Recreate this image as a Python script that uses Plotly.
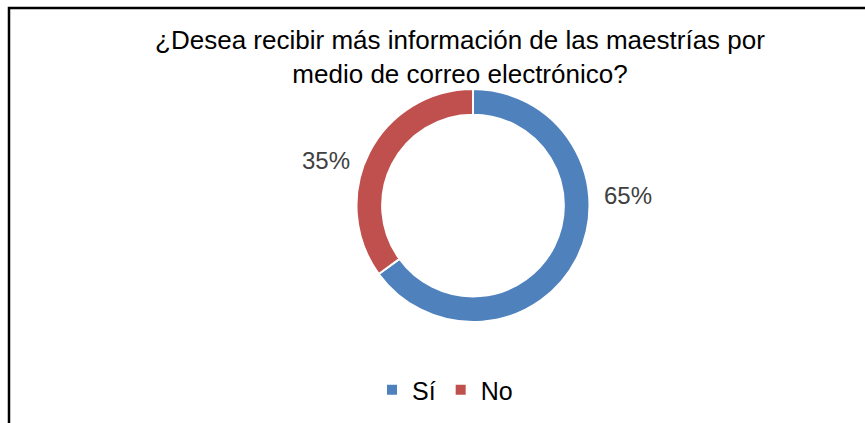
import plotly.graph_objects as go

title_text = "¿Desea recibir más información de las maestrías por<br>medio de correo electrónico?"
categories = ["Sí", "No"]
values = [65, 35]
colors = ["#4F81BD", "#C0504D"]

W, H = 865, 423

fig = go.Figure()
fig.add_trace(go.Pie(
    labels=categories,
    values=values,
    hole=0.78,
    sort=False,
    direction="clockwise",
    rotation=0,
    marker=dict(colors=colors, line=dict(color="white", width=2)),
    textinfo="none",
    hoverinfo="label+percent",
    domain=dict(x=[(473 - 116.5) / W, (473 + 116.5) / W],
                y=[(H - 205.5 - 116.5) / H, (H - 205.5 + 116.5) / H]),
))

# percentage labels
total = sum(values)
label_pos = [(628, 195), (326, 160)]
for v, (px, py) in zip(values, label_pos):
    fig.add_annotation(
        x=px / W, y=1 - py / H, xref="paper", yref="paper",
        text=f"{round(100 * v / total)}%", showarrow=False,
        font=dict(family="Liberation Sans, Arial", size=24, color="#404040"),
        xanchor="center", yanchor="middle",
    )

fig.update_layout(
    width=W, height=H,
    margin=dict(l=0, r=0, t=0, b=0),
    paper_bgcolor="white", plot_bgcolor="white",
    title=dict(text=title_text, x=460 / W, xanchor="center",
               y=1 - 49 / H, yanchor="middle",
               font=dict(family="Liberation Sans, Arial", size=26, color="#000000")),
    legend=dict(orientation="h", x=445 / W, xanchor="center",
                y=1 - 390 / H, yanchor="middle",
                font=dict(family="Liberation Sans, Arial", size=25, color="#000000"),
                itemwidth=30, traceorder="normal"),
    shapes=[dict(type="rect", xref="paper", yref="paper",
                 x0=9 / W, x1=1.05, y0=-0.05, y1=1 - 8 / H,
                 line=dict(color="black", width=2.5), fillcolor="rgba(0,0,0,0)")],
)

fig.write_html("out.html")
